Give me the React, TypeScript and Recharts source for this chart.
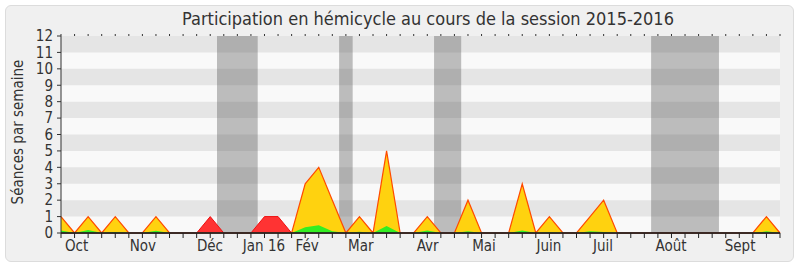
import React from 'react';
import { AreaChart, Area, XAxis, YAxis, ReferenceArea, ReferenceLine } from 'recharts';

const weekIndex = [
  0, 1, 2, 3, 4, 5, 6, 7, 8, 9, 10, 11, 12, 13, 14, 15, 16, 17, 18, 19, 20, 21, 22, 23, 24, 25, 26,
  27, 28, 29, 30, 31, 32, 33, 34, 35, 36, 37, 38, 39, 40, 41, 42, 43, 44, 45, 46, 47, 48, 49, 50, 51, 52, 53,
];
const presences = [
  1, 0, 1, 0, 1, 0, 0, 1, 0, 0, 0, 0, 0, 0, 0, 0, 0, 0, 3, 4, 2, 0, 1, 0, 5, 0, 0,
  1, 0, 0, 2, 0, 0, 0, 3, 0, 1, 0, 0, 1, 2, 0, 0, 0, 0, 0, 0, 0, 0, 0, 0, 0, 1, 0,
];
const autres = [
  0, 0, 0, 0, 0, 0, 0, 0, 0, 0, 0, 1, 0, 0, 0, 1, 1, 0, 0, 0, 0, 0, 0, 0, 0, 0, 0,
  0, 0, 0, 0, 0, 0, 0, 0, 0, 0, 0, 0, 0, 0, 0, 0, 0, 0, 0, 0, 0, 0, 0, 0, 0, 0, 0,
];
const interventions = [
  0.15, 0, 0.18, 0, 0.06, 0, 0, 0.13, 0, 0, 0, 0, 0, 0, 0, 0, 0, 0, 0.35, 0.47, 0.1, 0, 0.08, 0, 0.43, 0, 0,
  0.15, 0, 0, 0.1, 0, 0, 0, 0.15, 0, 0.05, 0, 0, 0.1, 0.06, 0, 0, 0, 0, 0, 0, 0, 0, 0, 0, 0, 0.1, 0,
];

const monthLabels = ['Oct', 'Nov', 'Déc', 'Jan 16', 'Fév', 'Mar', 'Avr', 'Mai', 'Juin', 'Juil', 'Août', 'Sept'];
const monthPositions = [1.15, 6.04, 10.98, 14.96, 18.15, 22.1, 27.03, 31.18, 35.97, 39.95, 44.97, 50.06];

const vacationStart = [11.5, 20.5, 27.5, 43.5];
const vacationEnd = [14.5, 21.5, 29.5, 48.5];

const yTicks = [0, 1, 2, 3, 4, 5, 6, 7, 8, 9, 10, 11, 12];
const stripeStart = [1, 3, 5, 7, 9, 11];

const data = weekIndex.map((w, i) => ({
  w,
  autres: autres[i],
  presences: presences[i],
  interventions: interventions[i],
}));

const FONT = "'DejaVu Sans Condensed', 'DejaVu Sans', sans-serif";
const TEXT = '#333333';

export default function App() {
  return (
    <div style={{ position: 'absolute', left: 0, top: 0, width: 800, height: 267, background: '#ffffff' }}>
      <div
        style={{
          position: 'absolute',
          left: 5,
          top: 5,
          width: 787,
          height: 255,
          border: '1px solid #dcdcdc',
          borderRadius: 6,
          background: '#f0f0f0',
        }}
      />
      <div
        style={{
          position: 'absolute',
          left: 0,
          width: 856,
          top: 8,
          textAlign: 'center',
          fontFamily: FONT,
          fontStretch: 'condensed',
          fontSize: 18,
          color: TEXT,
          lineHeight: '21px',
          whiteSpace: 'nowrap',
        }}
      >
        Participation en hémicycle au cours de la session 2015-2016
      </div>
      <div
        style={{
          position: 'absolute',
          left: 18,
          top: 132,
          transform: 'translate(-50%, -50%) rotate(-90deg)',
          fontFamily: FONT,
          fontStretch: 'condensed',
          fontSize: 15,
          color: TEXT,
          whiteSpace: 'nowrap',
          lineHeight: '18px',
        }}
      >
        Séances par semaine
      </div>
      <div style={{ position: 'absolute', left: 0, top: 0 }}>
        <AreaChart
          width={800}
          height={267}
          data={data}
          margin={{ top: 35, right: 20, bottom: 0, left: 0 }}
          style={{ fontFamily: FONT, fontStretch: 'condensed' }}
        >
          <ReferenceArea yAxisId="y" xAxisId="a" y1={0} y2={12} fill="#f9f9f9" fillOpacity={1} ifOverflow="visible" />
          {stripeStart.map((s) => (
            <ReferenceArea key={'s' + s} yAxisId="y" xAxisId="a" y1={s} y2={s + 1} fill="#e5e5e5" fillOpacity={1} />
          ))}
          {vacationStart.map((s, i) => (
            <ReferenceArea
              key={'v' + s}
              yAxisId="y"
              xAxisId="a"
              x1={s}
              x2={vacationEnd[i]}
              y1={0}
              y2={12}
              fill="#4b4b4b"
              fillOpacity={0.35}
            />
          ))}
          <YAxis
            yAxisId="y"
            width={61}
            domain={[0, 12]}
            ticks={yTicks}
            interval={0}
            tickSize={4}
            tickMargin={4}
            stroke={TEXT}
            tick={{ fill: TEXT, fontSize: 15 }}
          />
          <XAxis
            xAxisId="a"
            dataKey="w"
            type="number"
            domain={[0, 53]}
            ticks={weekIndex}
            interval={0}
            height={1}
            tickSize={5}
            tickFormatter={() => ''}
            stroke="#222222"
          />
          <XAxis
            xAxisId="b"
            type="number"
            dataKey="w"
            domain={[0, 53]}
            ticks={monthPositions}
            interval={0}
            height={33}
            axisLine={false}
            tickLine={false}
            tickSize={0}
            tickMargin={6}
            tickFormatter={(v: number) => monthLabels[monthPositions.indexOf(v)] ?? ''}
            tick={{ fill: TEXT, fontSize: 15 }}
          />
          <XAxis
            xAxisId="c"
            orientation="top"
            type="number"
            dataKey="w"
            domain={[0, 53]}
            ticks={weekIndex}
            interval={0}
            height={1}
            axisLine={false}
            tickSize={2}
            tickFormatter={() => ''}
            stroke="#333333"
          />
          <Area
            xAxisId="a"
            yAxisId="y"
            type="linear"
            dataKey="autres"
            stroke="#ee1111"
            strokeWidth={1}
            fill="#ff3333"
            fillOpacity={1}
            isAnimationActive={false}
            dot={false}
            activeDot={false}
          />
          <Area
            xAxisId="a"
            yAxisId="y"
            type="linear"
            dataKey="presences"
            stroke="#ff4a00"
            strokeWidth={1.2}
            fill="#ffd20f"
            fillOpacity={1}
            isAnimationActive={false}
            dot={false}
            activeDot={false}
          />
          <Area
            xAxisId="a"
            yAxisId="y"
            type="linear"
            dataKey="interventions"
            stroke="none"
            fill="#33ee22"
            fillOpacity={1}
            isAnimationActive={false}
            dot={false}
            activeDot={false}
          />
          <ReferenceLine xAxisId="a" yAxisId="y" y={0} stroke="#222222" strokeWidth={1.5} />
        </AreaChart>
      </div>
    </div>
  );
}
